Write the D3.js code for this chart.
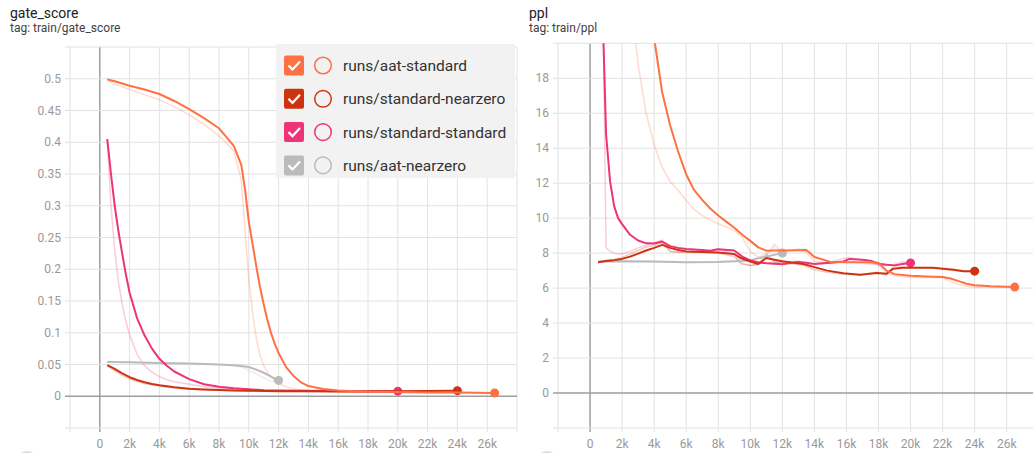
<!DOCTYPE html>
<html>
<head>
<meta charset="utf-8">
<script src="https://cdn.jsdelivr.net/npm/d3@7"></script>
<style>
  body { margin: 0; background: #fff; }
  svg { display: block; font-family: Roboto, "Noto Sans", sans-serif; }
</style>
</head>
<body>
<svg id="chart" width="1033" height="453"></svg>
<script>
// run names and colours
const runs = ['runs/aat-standard', 'runs/standard-nearzero', 'runs/standard-standard', 'runs/aat-nearzero']
const runColors = ['#ff7043', '#cc3311', '#ee3377', '#bbbbbb']

const xTicks = [0, 2000, 4000, 6000, 8000, 10000, 12000, 14000, 16000, 18000, 20000, 22000, 24000, 26000]

// ---- gate_score ----
const gateTicks = [0, 0.05, 0.1, 0.15, 0.2, 0.25, 0.3, 0.35, 0.4, 0.45, 0.5]

const gateAatStdSteps = [500, 1000, 2000, 3000, 4000, 5000, 6000, 7000, 8000, 8500, 9000, 9500, 9750, 10000, 10250, 10500, 10750, 11000, 11250, 11500, 11750, 12000, 12500, 13000, 13500, 14000, 15000, 16000, 18000, 20000, 22000, 24000, 26500]
const gateAatStdSmooth = [0.499, 0.496, 0.489, 0.483, 0.476, 0.465, 0.452, 0.438, 0.422, 0.408, 0.394, 0.364, 0.325, 0.275, 0.24, 0.205, 0.172, 0.145, 0.12, 0.099, 0.082, 0.068, 0.046, 0.032, 0.022, 0.016, 0.0115, 0.009, 0.0072, 0.0065, 0.006, 0.0058, 0.0053]
const gateAatStdRaw = [0.498, 0.492, 0.483, 0.475, 0.467, 0.456, 0.443, 0.428, 0.41, 0.399, 0.386, 0.34, 0.26, 0.185, 0.133, 0.092, 0.064, 0.048, 0.038, 0.03, 0.024, 0.02, 0.015, 0.012, 0.01, 0.009, 0.008, 0.007, 0.0065, 0.006, 0.0058, 0.0055, 0.005]

const gateStdNzSteps = [500, 1000, 1500, 2000, 2500, 3000, 3500, 4000, 5000, 6000, 7000, 8000, 9000, 10000, 12000, 14000, 16000, 18000, 20000, 22000, 24000]
const gateStdNzSmooth = [0.049, 0.043, 0.036, 0.030, 0.0255, 0.022, 0.0193, 0.0173, 0.0142, 0.012, 0.0108, 0.0099, 0.0092, 0.0087, 0.008, 0.0077, 0.0075, 0.0075, 0.0078, 0.0082, 0.0088]
const gateStdNzRaw = [0.048, 0.040, 0.033, 0.027, 0.023, 0.02, 0.018, 0.016, 0.013, 0.0112, 0.0102, 0.0094, 0.0088, 0.0083, 0.0078, 0.0075, 0.0074, 0.0075, 0.008, 0.0085, 0.009]

const gateStdStdSteps = [500, 750, 1000, 1250, 1500, 1750, 2000, 2500, 3000, 3500, 4000, 4500, 5000, 6000, 7000, 8000, 9000, 10000, 11000, 12000, 14000, 16000, 18000, 20000]
const gateStdStdSmooth = [0.405, 0.35, 0.30, 0.26, 0.225, 0.192, 0.163, 0.123, 0.096, 0.075, 0.059, 0.048, 0.039, 0.027, 0.019, 0.015, 0.0125, 0.011, 0.0095, 0.009, 0.0085, 0.0082, 0.008, 0.008]
const gateStdStdRaw = [0.405, 0.30, 0.23, 0.18, 0.145, 0.118, 0.097, 0.066, 0.048, 0.038, 0.031, 0.026, 0.023, 0.019, 0.015, 0.013, 0.011, 0.0095, 0.009, 0.0085, 0.008, 0.008, 0.008, 0.008]

const gateAatNzSteps = [500, 2000, 4000, 6000, 8000, 9000, 9500, 10000, 10500, 11000, 11500, 12000]
const gateAatNzSmooth = [0.054, 0.0535, 0.0525, 0.0515, 0.050, 0.049, 0.0478, 0.046, 0.042, 0.037, 0.031, 0.025]
const gateAatNzRaw = [0.054, 0.053, 0.052, 0.051, 0.0495, 0.048, 0.046, 0.041, 0.035, 0.029, 0.024, 0.021]

// ---- ppl ----
const pplTicks = [0, 2, 4, 6, 8, 10, 12, 14, 16, 18]

const pplAatStdSteps = [500, 1000, 1500, 2000, 2500, 3000, 3500, 4000, 4500, 5000, 5500, 6000, 6500, 7000, 7500, 8000, 8500, 9000, 9500, 10000, 10500, 11000, 11500, 12000, 13000, 13500, 14000, 15000, 16000, 17000, 18000, 18500, 19000, 20000, 21000, 22000, 22500, 23000, 23500, 24000, 25000, 26500]
const pplAatStdSmooth = [80, 62, 50, 40, 33, 27.5, 23.2, 20.3, 17.2, 15.3, 13.8, 12.5, 11.6, 11.05, 10.55, 10.15, 9.8, 9.45, 9.05, 8.7, 8.33, 8.14, 8.15, 8.15, 8.17, 8.18, 7.78, 7.5, 7.48, 7.48, 7.45, 7.0, 6.8, 6.7, 6.66, 6.63, 6.55, 6.4, 6.25, 6.16, 6.1, 6.06]
const pplAatStdRaw = [95, 60, 40, 30, 23, 18.8, 16.0, 14.2, 12.9, 12.1, 11.6, 11.0, 10.5, 10.15, 9.9, 9.68, 9.5, 9.3, 8.9, 8.1, 7.75, 7.85, 8.5, 8.05, 8.25, 8.05, 7.55, 7.4, 7.55, 7.4, 7.35, 6.85, 6.7, 6.6, 6.62, 6.6, 6.4, 6.2, 6.12, 6.05, 6.07, 6.05]

const pplStdNzSteps = [500, 1000, 1500, 2000, 2500, 3000, 3500, 4000, 4500, 5000, 5500, 6000, 7000, 8000, 9000, 9400, 10000, 10500, 11000, 11500, 12000, 13300, 14000, 14800, 15800, 16850, 17900, 18500, 18900, 19500, 21400, 22700, 23300, 24000]
const pplStdNzSmooth = [7.48, 7.55, 7.6, 7.67, 7.8, 7.97, 8.15, 8.3, 8.47, 8.3, 8.18, 8.1, 8.06, 8.03, 7.95, 7.72, 7.52, 7.38, 7.72, 7.62, 7.53, 7.38, 7.2, 7.0, 6.85, 6.76, 6.87, 6.82, 7.1, 7.16, 7.16, 7.05, 6.97, 6.97]
const pplStdNzRaw = [7.45, 7.6, 7.65, 7.75, 7.95, 8.15, 8.35, 8.45, 8.6, 8.1, 8.05, 8.05, 8.05, 8.0, 7.8, 7.4, 7.3, 7.35, 7.95, 7.5, 7.45, 7.3, 7.05, 6.9, 6.8, 6.75, 6.9, 6.75, 7.2, 7.2, 7.15, 7.0, 6.95, 6.97]

const pplStdStdSteps = [500, 750, 1000, 1250, 1500, 1750, 2000, 2500, 3000, 3500, 4000, 4500, 5000, 5500, 6000, 7000, 7500, 8000, 9000, 9500, 10000, 10500, 11000, 12000, 13000, 13500, 14000, 15000, 15800, 16200, 17000, 17500, 18000, 18500, 19000, 19500, 20000]
const pplStdStdSmooth = [50, 23, 14.8, 12.1, 10.7, 10.0, 9.66, 9.05, 8.72, 8.56, 8.55, 8.66, 8.4, 8.3, 8.24, 8.18, 8.14, 8.22, 8.15, 7.8, 7.58, 7.48, 7.42, 7.36, 7.5, 7.45, 7.38, 7.45, 7.52, 7.67, 7.62, 7.57, 7.4, 7.33, 7.3, 7.38, 7.44]
const pplStdStdRaw = [60, 26, 8.3, 8.1, 8.0, 7.95, 7.95, 8.1, 8.3, 8.45, 8.6, 8.75, 8.1, 8.05, 8.1, 8.1, 8.15, 8.25, 7.9, 7.4, 7.3, 7.4, 7.45, 7.5, 7.55, 7.35, 7.4, 7.5, 7.7, 7.75, 7.6, 7.55, 7.3, 7.3, 7.35, 7.5, 7.45]

const pplAatNzSteps = [500, 2000, 4000, 6000, 8000, 9500, 10000, 10500, 11000, 11500, 12000]
const pplAatNzSmooth = [7.52, 7.54, 7.52, 7.48, 7.5, 7.55, 7.6, 7.7, 7.8, 7.9, 8.01]
const pplAatNzRaw = [7.5, 7.56, 7.5, 7.47, 7.52, 7.6, 7.55, 7.75, 8.0, 8.3, 8.05]

const zip = (steps, vals) => steps.map((s, i) => [s, vals[i]])

const svg = d3.select('#chart')

function drawChart(cfg) {
    const x = d3.scaleLinear().domain([-2000, 28000]).range([cfg.left, cfg.left + 447 * cfg.xStretch])
    const y = d3.scaleLinear().domain(cfg.yDomain).range([428, cfg.top])

    const g = svg.append('g')

    g.append('text')
        .attr('x', cfg.titleX).attr('y', 18)
        .attr('font-size', 14).attr('fill', '#212121')
        .text(cfg.title)
    g.append('text')
        .attr('x', cfg.titleX).attr('y', 32)
        .attr('font-size', 12).attr('fill', '#424242')
        .text(cfg.tag)

    const [x0, x1] = x.range()

    // grid
    const xGrid = [-2000].concat(xTicks, [28000])
    g.append('g').selectAll('line')
        .data(xGrid)
        .enter().append('line')
        .attr('x1', d => x(d)).attr('x2', d => x(d))
        .attr('y1', cfg.top).attr('y2', 432)
        .attr('stroke', d => d === 0 ? '#9e9e9e' : '#e2e2e2')
        .attr('stroke-width', d => d === 0 ? 1.5 : 1)

    const yGrid = [cfg.yDomain[0]].concat(cfg.yTicks, [cfg.yDomain[1]])
    g.append('g').selectAll('line')
        .data(yGrid)
        .enter().append('line')
        .attr('x1', x0 - 5).attr('x2', x1)
        .attr('y1', d => y(d)).attr('y2', d => y(d))
        .attr('stroke', d => d === 0 ? '#9e9e9e' : '#e2e2e2')
        .attr('stroke-width', d => d === 0 ? 1.5 : 1)

    // tick labels
    g.append('g').selectAll('text')
        .data(cfg.yTicks)
        .enter().append('text')
        .attr('x', x0 - 9).attr('y', d => y(d))
        .attr('dy', '0.35em')
        .attr('text-anchor', 'end')
        .attr('font-size', 12).attr('fill', '#999')
        .text(d => String(+d.toFixed(2)))

    g.append('g').selectAll('text')
        .data(xTicks)
        .enter().append('text')
        .attr('x', d => x(d)).attr('y', 448)
        .attr('text-anchor', 'middle')
        .attr('font-size', 12).attr('fill', '#999')
        .text(d => d === 0 ? '0' : (d / 1000) + 'k')

    // lines
    const clipId = 'clip-' + cfg.id
    svg.append('clipPath').attr('id', clipId)
        .append('rect')
        .attr('x', x0).attr('y', cfg.top)
        .attr('width', x1 - x0).attr('height', 428 - cfg.top)

    const line = d3.line().x(d => x(d[0])).y(d => y(d[1]))
    const lines = g.append('g').attr('clip-path', 'url(#' + clipId + ')')

    // draw back to front: aat-nearzero, standard-standard, standard-nearzero, aat-standard
    const order = [3, 2, 1, 0]
    order.forEach(i => {
        const s = cfg.series[i]
        lines.append('path')
            .datum(zip(s.steps, s.raw))
            .attr('d', line)
            .attr('fill', 'none')
            .attr('stroke', runColors[i])
            .attr('stroke-opacity', 0.25)
            .attr('stroke-width', 1.5)
    })
    order.forEach(i => {
        const s = cfg.series[i]
        const pts = zip(s.steps, s.smooth)
        lines.append('path')
            .datum(pts)
            .attr('d', line)
            .attr('fill', 'none')
            .attr('stroke', runColors[i])
            .attr('stroke-width', 2)
            .attr('stroke-linejoin', 'round')
        const last = pts[pts.length - 1]
        lines.append('circle')
            .attr('cx', x(last[0])).attr('cy', y(last[1]))
            .attr('r', 4.5)
            .attr('fill', runColors[i])
    })
    return g
}

drawChart({
    id: 'gate', title: 'gate_score', tag: 'tag: train/gate_score', titleX: 10,
    left: 70, xStretch: 1, top: 47,
    yDomain: [-0.05, 0.55], yTicks: gateTicks,
    series: [
        { steps: gateAatStdSteps, smooth: gateAatStdSmooth, raw: gateAatStdRaw },
        { steps: gateStdNzSteps, smooth: gateStdNzSmooth, raw: gateStdNzRaw },
        { steps: gateStdStdSteps, smooth: gateStdStdSmooth, raw: gateStdStdRaw },
        { steps: gateAatNzSteps, smooth: gateAatNzSmooth, raw: gateAatNzRaw }
    ]
})

drawChart({
    id: 'ppl', title: 'ppl', tag: 'tag: train/ppl', titleX: 529,
    left: 558, xStretch: 32.05 / 29.8, top: 43.3,
    yDomain: [-2, 20], yTicks: pplTicks,
    series: [
        { steps: pplAatStdSteps, smooth: pplAatStdSmooth, raw: pplAatStdRaw },
        { steps: pplStdNzSteps, smooth: pplStdNzSmooth, raw: pplStdNzRaw },
        { steps: pplStdStdSteps, smooth: pplStdStdSmooth, raw: pplStdStdRaw },
        { steps: pplAatNzSteps, smooth: pplAatNzSmooth, raw: pplAatNzRaw }
    ]
})

// legend over the first chart
const legend = svg.append('g').attr('transform', 'translate(276,44)')
legend.append('rect')
    .attr('width', 239).attr('height', 134)
    .attr('fill', '#f2f2f2')

const item = legend.selectAll('g.item')
    .data(runs)
    .enter().append('g')
    .attr('class', 'item')
    .attr('transform', (d, i) => 'translate(0,' + (21 + i * 33.3) + ')')

item.append('rect')
    .attr('x', 8).attr('y', -9.5)
    .attr('width', 20).attr('height', 20).attr('rx', 2)
    .attr('fill', (d, i) => runColors[i])
item.append('path')
    .attr('d', 'M12.5,0.5 L16.5,4.5 L24,-3.5')
    .attr('fill', 'none')
    .attr('stroke', '#fff')
    .attr('stroke-width', 2.2)
item.append('circle')
    .attr('cx', 47).attr('cy', 0.5).attr('r', 8.3)
    .attr('fill', 'none')
    .attr('stroke', (d, i) => runColors[i])
    .attr('stroke-width', 1.5)
item.append('text')
    .attr('x', 67).attr('y', 0.5).attr('dy', '0.35em')
    .attr('font-size', 15.5).attr('fill', '#333')
    .text(d => d)

// toolbar icons peeking from the bottom edge
svg.selectAll('ellipse.tool')
    .data([27, 547])
    .enter().append('ellipse')
    .attr('class', 'tool')
    .attr('cx', d => d).attr('cy', 455)
    .attr('rx', 7).attr('ry', 4)
    .attr('fill', '#e0e0e0')
</script>
</body>
</html>
